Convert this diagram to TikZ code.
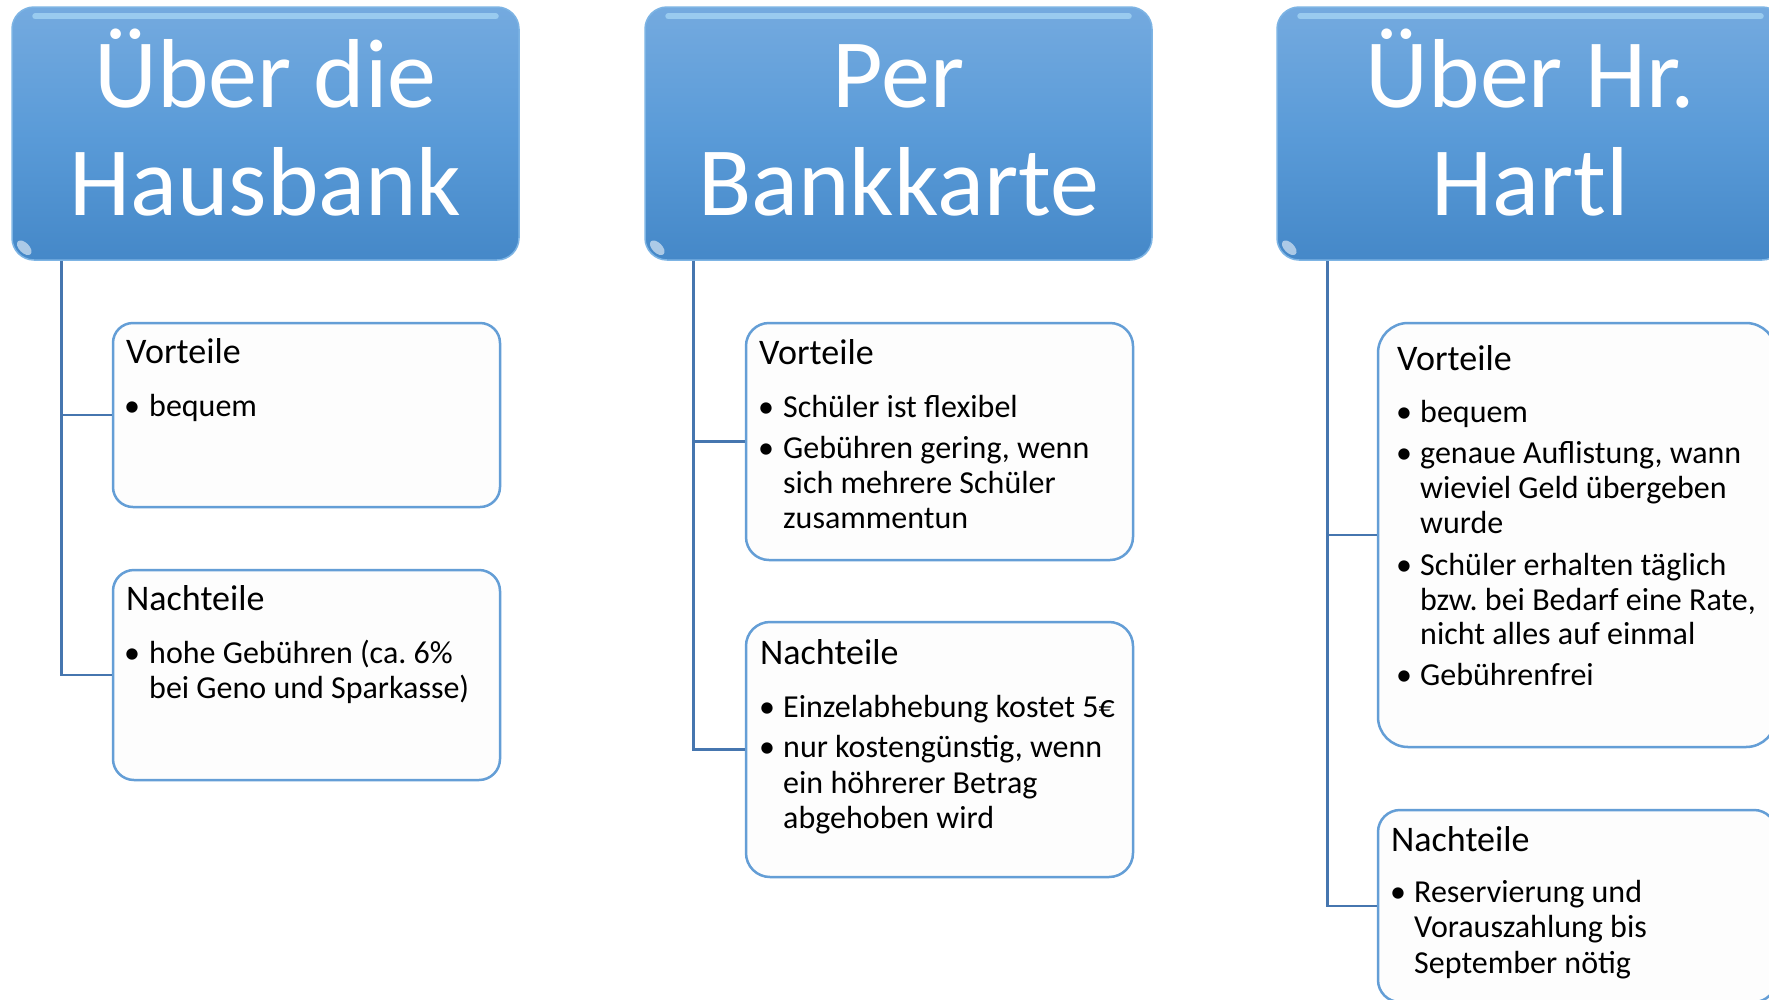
\documentclass[tikz,border=0pt]{standalone}
\usepackage{fontspec}
\setmainfont{Carlito}
\frenchspacing
\definecolor{hdtop}{RGB}{116,170,223}
\definecolor{hdmid}{RGB}{90,155,216}
\definecolor{hdbot}{RGB}{69,136,200}
\definecolor{hdedge}{RGB}{125,180,228}
\definecolor{hdgloss}{RGB}{170,218,247}
\definecolor{boxline}{RGB}{100,158,214}
\definecolor{connline}{RGB}{70,118,175}
\definecolor{boxfill}{RGB}{253,253,253}
\tikzset{
 header/.style={rectangle, rounded corners=22pt, top color=hdtop, bottom color=hdbot, middle color=hdmid, draw=hdedge, line width=1.5pt, minimum width=507pt, minimum height=253pt, inner sep=0pt},
 gloss/.style={draw=hdgloss, line width=6pt, line cap=round, opacity=0.7},
 glint/.style={fill=white, opacity=0.55},
 infobox/.style={rectangle, draw=boxline, line width=2.5pt, fill=boxfill, inner sep=0pt},
 conn/.style={draw=connline, line width=2.5pt},
 htext/.style={anchor=base, text=white, inner sep=0pt, font=\fontsize{98}{108}\selectfont},
 ttl/.style={anchor=base west, inner sep=0pt, font=\fontsize{36}{40}\selectfont},
 itm/.style={anchor=base west, inner sep=0pt, font=\fontsize{32}{35}\selectfont},
 blt/.style={anchor=base, inner sep=0pt, font=\fontsize{32}{35}\selectfont},
}
\begin{document}
\begin{tikzpicture}[x=1pt,y=-1pt]
\useasboundingbox (0,0) rectangle (1769,999);
\clip (0,0) rectangle (1769,999);
\fill[white] (0,0) rectangle (1769,999);

% headers
\node[header] (h1) at (265.5,133.5) {};
\node[header] (h2) at (898.5,133.5) {};
\node[header] (h3) at (1530.5,133.5) {};
\foreach \h in {h1,h2,h3}{
  \draw[gloss] ([xshift=24pt,yshift=-10pt]\h.north west) -- ([xshift=-24pt,yshift=-10pt]\h.north east);
  \fill[glint] ([xshift=13pt,yshift=13pt]\h.south west) ellipse [x radius=9pt, y radius=5pt, rotate=-45];
}
\node[htext] (h1a) at (265.5,107) {Über die};
\node[htext] (h1b) at (265.5,215) {Hausbank};
\node[htext] (h2a) at (898.5,107) {Per};
\node[htext] (h2b) at (898.5,215) {Bankkarte};
\node[htext] (h3a) at (1530.5,107) {Über Hr.};
\node[htext] (h3b) at (1530.5,215) {Hartl};

% boxes
\node[infobox, minimum width=387pt, minimum height=184pt, rounded corners=20pt] (v1) at (306.5,415) {};
\node[infobox, minimum width=387pt, minimum height=210pt, rounded corners=21pt] (n1) at (306.5,675) {};
\node[infobox, minimum width=387pt, minimum height=237pt, rounded corners=23pt] (v2) at (939.5,441.5) {};
\node[infobox, minimum width=387pt, minimum height=255pt, rounded corners=24pt] (n2) at (939.5,749.5) {};
\node[infobox, minimum width=398pt, minimum height=424pt, rounded corners=30pt] (v3) at (1577,535) {};
\node[infobox, minimum width=398pt, minimum height=192pt, rounded corners=22pt] (n3) at (1577,906) {};

% connectors
\draw[conn] ([xshift=50pt]h1.south west) |- (v1.west);
\draw[conn] ([xshift=50pt]h1.south west) |- (n1.west);
\draw[conn] ([xshift=49pt]h2.south west) |- (v2.west);
\draw[conn] ([xshift=49pt]h2.south west) |- (n2.west);
\draw[conn] ([xshift=51pt]h3.south west) |- (v3.west);
\draw[conn] ([xshift=51pt]h3.south west) |- (n3.west);

% box 1 Vorteile
\node[ttl] (t1v) at (126,363) {Vorteile};
\node[blt] (b1v1) at (132,416) {•};
\node[itm] (i1v1) at (149,416) {bequem};
% box 1 Nachteile
\node[ttl] (t1n) at (126,610) {Nachteile};
\node[blt] (b1n1) at (132,663) {•};
\node[itm] (i1n1a) at (149,663) {hohe Gebühren (ca. 6\%};
\node[itm] (i1n1b) at (149,698) {bei Geno und Sparkasse)};

% box 2 Vorteile
\node[ttl] (t2v) at (759,364) {Vorteile};
\node[blt] (b2v1) at (766,417) {•};
\node[itm] (i2v1) at (783,417) {Schüler ist flexibel};
\node[blt] (b2v2) at (766,458) {•};
\node[itm] (i2v2a) at (783,458) {Gebühren gering, wenn};
\node[itm] (i2v2b) at (783,493) {sich mehrere Schüler};
\node[itm] (i2v2c) at (783,528) {zusammentun};
% box 2 Nachteile
\node[ttl] (t2n) at (760,664) {Nachteile};
\node[blt] (b2n1) at (767,717) {•};
\node[itm] (i2n1) at (783,717) {Einzelabhebung kostet 5€};
\node[blt] (b2n2) at (767,757) {•};
\node[itm] (i2n2a) at (783,757) {nur kostengünstig, wenn};
\node[itm] (i2n2b) at (783,793) {ein höhrerer Betrag};
\node[itm] (i2n2c) at (783,828) {abgehoben wird};

% box 3 Vorteile
\node[ttl] (t3v) at (1397,370) {Vorteile};
\node[blt] (b3v1) at (1404,422) {•};
\node[itm] (i3v1) at (1420,422) {bequem};
\node[blt] (b3v2) at (1404,463) {•};
\node[itm] (i3v2a) at (1420,463) {genaue Auflistung, wann};
\node[itm] (i3v2b) at (1420,498) {wieviel Geld übergeben};
\node[itm] (i3v2c) at (1420,533) {wurde};
\node[blt] (b3v3) at (1404,575) {•};
\node[itm] (i3v3a) at (1420,575) {Schüler erhalten täglich};
\node[itm] (i3v3b) at (1420,610) {bzw. bei Bedarf eine Rate,};
\node[itm] (i3v3c) at (1420,644) {nicht alles auf einmal};
\node[blt] (b3v4) at (1404,685) {•};
\node[itm] (i3v4) at (1420,685) {Gebührenfrei};
% box 3 Nachteile
\node[ttl] (t3n) at (1391,851) {Nachteile};
\node[blt] (b3n1) at (1398,902) {•};
\node[itm] (i3n1a) at (1414,902) {Reservierung und};
\node[itm] (i3n1b) at (1414,937) {Vorauszahlung bis};
\node[itm] (i3n1c) at (1414,973) {September nötig};
\end{tikzpicture}
\end{document}
